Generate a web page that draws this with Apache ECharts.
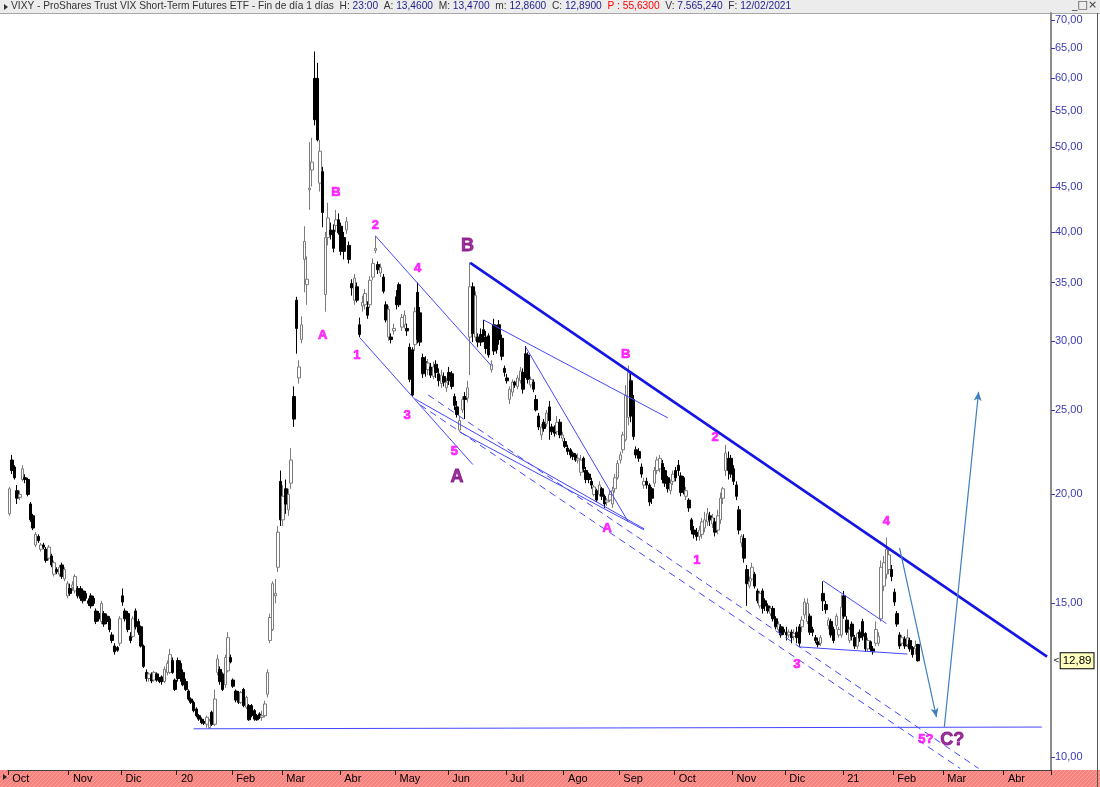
<!DOCTYPE html>
<html><head><meta charset="utf-8">
<script src="https://cdn.jsdelivr.net/npm/echarts@6/dist/echarts.min.js"></script>
<style>html,body{margin:0;padding:0;background:#fff}#c{width:1100px;height:787px}</style>
</head><body><div id="c"></div>
<script>
// ---------- DATA (open, close, low, high) ----------
const oct19 = [[19.0,20.3,18.9,20.4],[21.9,21.3,21.1,22.2],[21.5,20.9,20.8,21.6],[20.2,19.8,19.5,20.5],[19.85,20.0,19.7,20.2],[20.8,21.4,20.7,21.6],[20.9,20.8,20.6,21.1],[20.8,20.0,19.9,20.9],[19.5,18.7,18.6,19.6],[18.9,18.3,18.2,19.0],[17.5,18.0,17.4,18.1],[17.9,17.7,17.6,18.0],[17.3,17.5,17.2,17.6],[17.5,17.4,17.3,17.6],[17.3,16.8,16.7,17.4],[16.9,17.4,16.8,17.5],[17.0,16.6,16.5,17.1],[16.2,16.7,16.1,16.8],[16.4,16.3,16.2,16.5],[16.2,16.5,16.1,16.6],[16.6,16.1,16.0,16.7],[16.0,16.4,15.9,16.5],[15.3,15.8,15.2,15.9]];
const nov19 = [[15.6,15.4,15.3,15.8],[15.65,15.75,15.5,15.9],[15.5,16.1,15.4,16.2],[15.6,15.3,15.2,15.7],[15.6,15.2,15.1,15.7],[15.5,15.1,15.0,15.6],[15.4,15.2,15.1,15.5],[15.1,15.0,14.9,15.2],[15.3,14.9,14.8,15.4],[15.2,15.0,14.9,15.3],[14.7,14.3,14.2,14.8],[14.6,14.4,14.3,14.7],[14.3,15.0,14.2,15.1],[14.6,14.2,14.1,14.7],[14.5,14.3,14.2,14.6],[14.4,14.0,13.9,14.5],[13.8,13.6,13.5,13.9],[13.4,13.2,13.1,13.5],[13.35,13.25,13.2,13.4],[13.5,14.4,13.4,14.5]];
const dec19 = [[15.3,15.05,14.9,15.6],[14.7,14.4,14.3,14.8],[14.6,14.0,13.9,14.7],[13.75,13.6,13.5,13.9],[13.75,14.4,13.7,14.5],[14.7,14.1,14.0,14.8],[14.3,13.9,13.8,14.4],[14.1,13.4,13.35,14.15],[13.4,12.7,12.65,13.45],[12.5,12.3,12.2,12.6],[12.3,12.45,12.2,12.5],[12.42,12.22,12.15,12.5],[12.25,12.5,12.2,12.55],[12.45,12.25,12.2,12.5],[12.3,12.2,12.15,12.35],[12.35,12.2,12.1,12.4],[12.2,12.6,12.15,12.7],[12.5,12.8,12.4,12.9],[12.5,13.1,12.45,13.3],[12.9,12.5,12.45,13.0],[12.25,11.95,11.9,12.3]];
const jan20 = [[12.9,12.3,12.2,13.0],[12.8,12.3,12.2,12.9],[12.5,12.1,12.05,12.6],[12.2,11.95,11.9,12.3],[11.9,11.65,11.6,11.95],[11.65,11.55,11.5,11.7],[11.55,11.3,11.25,11.6],[11.35,11.15,11.1,11.4],[11.15,11.05,11.0,11.2],[11.05,10.95,10.9,11.1],[10.98,10.93,10.88,11.05],[10.9,11.1,10.8,11.15],[10.8,11.0,10.77,11.05],[11.25,10.9,10.85,11.3],[10.9,11.65,10.85,11.95],[12.5,12.95,12.4,13.1],[12.6,12.2,12.1,12.7],[12.45,11.95,11.9,12.5],[12.1,13.0,12.0,13.1],[12.55,13.7,12.5,13.9],[13.0,12.85,12.8,13.1]];
const feb20 = [[12.25,12.05,12.0,12.3],[11.9,11.62,11.55,11.95],[11.85,11.55,11.5,11.9],[11.55,11.85,11.5,11.9],[11.95,11.45,11.4,12.0],[11.4,11.7,11.35,11.75],[11.45,11.03,11.0,11.5],[11.45,11.15,11.1,11.5],[11.3,11.05,11.0,11.35],[11.15,11.03,11.0,11.2],[11.2,11.1,11.05,11.25],[11.1,11.15,11.0,11.3],[11.15,11.5,11.1,11.6],[11.8,12.5,11.7,12.6],[13.6,14.45,13.5,14.6],[14.0,15.8,13.95,15.9],[15.3,15.4,15.0,16.0],[16.5,18.1,16.3,18.4],[20.7,18.7,18.4,21.3]];
const mar20 = [[18.7,19.9,18.4,20.5],[20.3,19.5,19.0,20.8],[19.2,20.0,18.9,20.3],[20.6,21.9,20.3,22.6],[25.9,24.4,23.9,26.6],[33.4,31.0,29.0,33.7],[27.2,28.0,26.8,28.5],[30.1,31.3,29.8,32.0],[37.2,39.0,34.1,40.6],[34.8,35.3,33.0,37.5],[44.7,44.9,42.4,50.7],[47.1,48.1,45.1,51.3],[60.0,53.8,53.0,64.4],[60.0,51.0,50.8,62.5],[45.5,49.5,44.5,51.0],[46.9,42.1,40.5,47.5],[33.9,39.4,32.4,40.0],[39.4,41.5,38.6,43.2],[40.2,39.7,39.2,41.0],[40.2,38.3,37.9,40.8],[40.7,41.3,40.0,42.4],[41.3,39.9,39.7,42.0]];
const apr20 = [[40.6,38.0,37.6,41.0],[39.4,38.0,37.2,40.0],[40.2,41.1,39.8,41.6],[38.6,37.2,36.8,39.0],[34.9,34.5,33.8,35.3],[33.4,35.4,33.0,35.8],[34.6,33.4,33.2,35.0],[31.3,30.5,30.3,31.9],[32.9,33.2,32.4,33.8],[33.0,34.0,32.6,34.4],[32.8,32.1,31.8,33.3],[33.0,35.2,32.7,35.6],[35.5,36.8,35.2,37.3],[38.1,38.3,37.8,39.6],[36.7,36.2,35.8,37.0],[35.9,36.4,35.5,36.8],[35.5,34.2,34.0,35.8],[33.0,31.7,31.5,33.3],[30.3,32.6,30.0,32.9],[30.3,30.1,29.8,30.6],[30.8,31.0,30.5,31.4]];
const may20 = [[33.7,33.0,32.6,34.3],[34.8,33.0,32.8,35.0],[31.1,31.9,30.8,32.2],[31.3,32.1,31.0,32.5],[31.0,30.8,30.4,31.4],[29.5,27.1,26.9,29.8],[29.3,26.0,25.9,29.5],[29.7,32.4,29.2,32.8],[34.1,30.1,29.8,35.0],[32.3,29.9,29.6,32.8],[28.7,27.5,27.2,29.0],[28.4,27.8,27.3,28.8],[27.8,28.3,27.4,28.6],[28.0,27.4,27.2,28.3],[27.3,28.0,27.1,28.4],[28.2,27.6,27.2,28.5],[27.5,27.0,26.6,27.9],[26.8,27.4,26.5,27.8],[27.3,26.9,26.6,27.6],[26.5,26.9,26.2,27.2]];
const jun20 = [[27.6,27.0,26.7,28.0],[27.5,26.6,26.4,27.7],[25.9,25.3,25.0,26.1],[25.2,24.7,24.5,25.6],[23.7,24.3,23.6,24.6],[25.0,25.7,24.8,25.9],[25.9,25.7,24.4,26.2],[25.8,26.5,25.5,27.0],[30.3,34.6,27.4,36.9],[34.6,30.6,29.9,35.0],[30.3,33.8,30.0,34.2],[30.3,29.9,29.5,30.6],[30.5,29.9,29.6,31.0],[30.9,30.4,29.9,31.7],[30.3,29.4,29.0,30.8],[30.4,28.9,28.7,30.6],[27.8,28.2,27.6,28.5],[31.3,29.2,28.9,31.8],[31.0,29.3,29.0,31.3],[31.3,30.1,29.7,31.7],[30.2,28.8,28.5,30.5],[27.9,27.6,27.3,28.1]];
const jul20 = [[27.2,27.0,26.8,27.5],[25.7,26.4,25.4,26.6],[26.2,26.9,25.9,27.1],[26.9,26.7,26.5,27.0],[26.6,27.2,26.4,27.4],[27.0,27.7,26.8,28.0],[27.6,26.4,26.1,27.9],[29.0,27.4,27.2,29.6],[28.9,27.1,26.8,29.1],[26.7,27.1,26.5,27.3],[26.9,26.4,26.2,27.1],[25.7,25.0,24.9,26.0],[24.6,23.9,23.7,24.8],[23.4,23.9,23.1,24.1],[24.2,23.8,23.6,24.4],[24.1,24.8,23.9,25.0],[25.2,24.3,23.1,25.6],[23.9,23.6,23.4,24.1],[23.8,23.5,23.3,24.0],[23.6,24.2,23.4,24.6],[24.2,23.4,23.2,24.4],[23.2,23.4,23.0,23.6]];
const aug20 = [[23.0,22.7,22.6,23.2],[22.6,22.4,22.2,22.8],[22.5,22.2,22.0,22.6],[22.3,22.1,21.9,22.4],[22.2,21.9,21.8,22.3],[21.9,22.0,21.7,22.3],[21.2,21.9,21.0,22.2],[22.0,21.4,21.2,22.1],[21.3,20.8,20.6,21.5],[21.1,20.8,20.6,21.2],[20.7,20.5,20.3,20.9],[20.0,20.4,19.9,20.5],[20.2,19.7,19.6,20.3],[20.0,20.5,19.9,20.7],[20.3,19.9,19.7,20.4],[19.9,19.5,19.3,20.0],[19.6,19.7,19.4,19.8],[19.7,20.0,19.6,20.2],[19.5,20.2,19.3,20.4],[20.3,20.9,20.1,21.1],[20.9,21.7,20.8,21.9]];
const sep20 = [[21.9,22.2,21.7,22.4],[22.5,23.4,22.3,23.6],[23.1,26.0,23.0,26.7],[24.5,27.6,24.0,28.1],[27.0,24.6,24.2,27.6],[25.7,23.3,23.1,26.0],[22.5,22.2,22.0,22.7],[22.4,22.0,21.8,22.6],[21.5,21.1,20.9,21.7],[20.5,20.7,20.3,20.9],[20.7,20.5,20.3,20.9],[20.5,19.6,19.4,20.6],[20.3,19.8,19.5,20.4],[20.6,21.3,20.4,21.5],[21.3,21.9,21.1,22.1],[21.4,22.0,21.2,22.2],[21.7,20.8,20.6,21.9],[21.3,20.6,20.4,21.5],[20.9,20.3,20.1,21.0],[20.2,20.6,20.0,20.8],[20.7,21.1,20.5,21.3]];
const oct20 = [[21.3,20.9,20.7,21.5],[21.6,21.3,21.0,21.9],[21.0,20.1,19.9,21.2],[20.9,20.2,20.0,21.0],[19.9,20.2,19.7,20.4],[19.7,19.3,19.1,19.8],[18.7,18.2,18.0,18.8],[18.2,18.0,17.8,18.4],[18.1,17.9,17.7,18.3],[17.9,18.2,17.7,18.4],[18.0,18.6,17.8,18.8],[18.3,18.7,18.1,19.1],[18.6,19.0,18.4,19.3],[18.9,18.7,18.4,19.1],[18.5,18.8,18.3,19.0],[18.6,18.1,17.9,18.8],[18.2,18.9,18.0,19.2],[18.7,19.8,18.5,20.1],[19.8,20.3,19.5,20.4],[21.3,22.3,21.0,22.8],[22.0,21.3,20.8,22.4],[22.0,21.1,20.9,22.2]];
const nov20 = [[21.4,20.7,20.5,21.6],[20.5,19.9,19.7,20.7],[19.2,18.2,18.0,19.4],[17.6,17.9,17.4,18.0],[17.8,16.9,16.7,18.0],[16.4,15.8,14.9,16.6],[15.7,15.9,15.6,16.1],[16.0,16.5,15.9,16.7],[16.2,15.7,15.6,16.3],[15.5,15.1,15.0,15.6],[14.9,15.4,14.8,15.5],[15.5,14.8,14.6,15.6],[15.1,14.9,14.7,15.2],[14.9,14.7,14.6,15.0],[14.6,14.8,14.5,14.9],[14.8,14.4,14.3,14.9],[14.4,14.1,14.0,14.5],[14.0,14.2,13.9,14.3],[14.1,13.8,13.7,14.2],[14.0,13.9,13.8,14.1]];
const dec20 = [[13.9,13.8,13.6,14.1],[13.8,13.9,13.7,14.0],[13.9,13.7,13.5,14.0],[13.75,13.85,13.6,14.0],[13.9,13.7,13.5,14.1],[14.1,13.5,13.37,14.2],[14.1,14.35,13.9,14.5],[14.55,15.05,14.4,15.2],[14.3,15.0,14.2,15.2],[14.5,13.9,13.8,14.6],[14.0,13.9,13.75,14.1],[13.7,13.6,13.5,13.8],[13.55,13.45,13.35,13.7],[13.5,13.7,13.4,13.8],[15.4,15.1,14.7,15.9],[14.95,14.75,14.6,15.1],[14.15,14.35,14.0,14.45],[14.3,13.8,13.7,14.4],[14.0,13.6,13.5,14.1],[14.15,14.5,14.0,14.6],[13.8,14.0,13.7,14.1],[13.8,14.85,13.7,15.35]];
const jan21 = [[15.3,14.5,14.4,15.5],[14.35,13.9,13.8,14.5],[13.6,14.0,13.5,14.1],[14.2,13.75,13.6,14.3],[13.7,13.4,13.3,13.8],[13.4,13.85,13.3,13.9],[13.9,13.7,13.55,14.0],[14.3,13.75,13.6,14.4],[13.85,13.3,13.2,13.9],[13.3,13.6,13.2,13.7],[13.55,13.3,13.2,13.6],[13.3,13.2,13.1,13.4],[13.5,14.0,13.4,14.3],[13.5,13.75,13.4,13.9],[14.4,16.5,14.3,16.8],[15.7,16.7,15.5,17.0],[16.2,17.3,16.0,17.85],[16.4,17.05,16.2,17.3],[16.4,16.1,15.9,16.6]];
const feb21 = [[15.45,15.05,14.9,15.6],[14.6,14.2,14.1,14.7],[13.8,13.4,13.3,13.9],[13.5,13.7,13.4,13.8],[13.65,13.4,13.3,13.75],[13.45,13.7,13.35,14.0],[13.6,13.3,13.2,13.7],[13.35,13.1,13.0,13.4],[13.3,13.4,13.1,13.6],[13.46,12.89,12.86,13.47]];

const holidays = ['2019-11-28','2019-12-25','2020-01-01','2020-01-20','2020-02-17','2020-04-10','2020-05-25','2020-07-03','2020-09-07','2020-11-26','2020-12-25','2021-01-01','2021-01-18','2021-02-15','2021-04-02'];
const firstDay = '2019-10-01', lastDay = '2021-04-27';
const monthNames = ['', 'Feb','Mar','Abr','May','Jun','Jul','Ago','Sep','Oct','Nov','Dic'];
const yTicks = [10,15,20,25,30,35,40,45,50,55,60,65,70];
const lastClose = 12.89;

// trend lines: [date1, price1, date2, price2, style]
const trendLines = [
  ['2020-06-11',36.86,'2021-04-26',13.03,'thick'],
  ['2020-04-21',39.58,'2020-06-23',28.09,'thin'],
  ['2020-04-13',30.27,'2020-06-12',21.64,'thin'],
  ['2020-06-18',31.71,'2020-09-28',24.48,'thin'],
  ['2020-07-13',29.53,'2020-09-04',18.60,'thin'],
  ['2020-05-12',25.74,'2020-09-15',18.26,'thin'],
  ['2020-06-05',23.58,'2020-09-15',18.21,'thin'],
  ['2020-12-21',15.92,'2021-01-27',14.22,'thin'],
  ['2020-12-08',13.37,'2021-02-08',13.12,'thin'],
  ['2020-01-10',10.77,'2021-04-22',10.82,'thin'],
  ['2020-05-19',26.01,'2021-03-18',9.70,'dash'],
  ['2020-05-14',25.33,'2021-03-09',9.70,'dash'],
  ['2021-02-03',17.37,'2021-02-24',11.11,'arrow'],
  ['2021-03-01',10.82,'2021-03-18',26.22,'arrow']
];
// wave labels: [date, price, text, kind]
const waveLabels = [
  ['2020-03-30',44.34,'B','m'],['2020-03-23',30.47,'A','m'],['2020-04-21',40.64,'2','m'],
  ['2020-05-13',36.28,'4','m'],['2020-04-09',28.83,'1','m'],['2020-05-07',24.61,'3','m'],
  ['2020-06-03',22.43,'5','m'],['2020-06-04',20.95,'A','p'],['2020-06-10',38.55,'B','p'],
  ['2020-09-03',28.91,'B','m'],['2020-08-25',18.26,'A','m'],['2020-10-22',23.22,'2','m'],
  ['2020-10-13',16.78,'1','m'],['2020-12-07',12.78,'3','m'],['2021-01-27',18.60,'4','m'],
  ['2021-02-18',10.46,'5?','m'],['2021-03-04',10.46,'C?','p']
];

// ---------- BUILD ----------
function tradingDays(a, b) {
  let d = new Date(a + 'T00:00:00Z'); const end = new Date(b + 'T00:00:00Z'); const out = [];
  while (d <= end) {
    const w = d.getUTCDay(); const s = d.toISOString().slice(0, 10);
    if (w !== 0 && w !== 6 && holidays.indexOf(s) < 0) out.push(s);
    d = new Date(d.getTime() + 86400000);
  }
  return out;
}
const dates = tradingDays(firstDay, lastDay);
const monthStart = dates.map((s, i) => i === 0 || s.slice(0, 7) !== dates[i - 1].slice(0, 7));
const ohlc = [].concat(oct19, nov19, dec19, jan20, feb20, mar20, apr20, may20, jun20, jul20, aug20, sep20, oct20, nov20, dec20, jan21, feb21);

const lineStyles = {
  thick: {color: '#1414e6', width: 2.6, type: 'solid'},
  thin: {color: '#4646ff', width: 1, type: 'solid'},
  dash: {color: '#4646ff', width: 1, type: [7, 5]},
  arrow: {color: '#3f7fc0', width: 1.2, type: 'solid'}
};
const mlData = trendLines.map(t => [
  {coord: [t[0], t[1]], symbol: 'none', lineStyle: lineStyles[t[4]]},
  {coord: [t[2], t[3]], symbol: t[4] === 'arrow' ? 'arrow' : 'none', symbolSize: [6, 9]}
]);
mlData.push({
  yAxis: lastClose, symbol: 'none', lineStyle: {color: 'rgba(0,0,0,0)', width: 0},
  label: {show: true, position: 'end', distance: 2, formatter: '{a|<}{b|' + lastClose.toFixed(2).replace('.', ',') + '}',
    rich: {a: {color: '#222', fontSize: 8, fontFamily: 'DejaVu Sans', padding: [0, 1, 0, 0]},
           b: {backgroundColor: '#ffffc0', borderColor: '#000', borderWidth: 1, padding: [2, 2, 1, 2], color: '#000', fontSize: 11.5, fontFamily: 'Liberation Sans'}}}
});

// hatched fill for the bottom time band
const hatch = document.createElement('canvas'); hatch.width = 4; hatch.height = 4;
(function () { const g = hatch.getContext('2d'); g.fillStyle = '#f8827d'; g.fillRect(0, 0, 4, 4);
  g.fillStyle = '#fba29d'; g.fillRect(0, 3, 1, 1); g.fillRect(1, 2, 1, 1); g.fillRect(2, 1, 1, 1); g.fillRect(3, 0, 1, 1); })();

const labelStyle = {
  m: {color: '#ff00ff', fontSize: 13, fontWeight: 'bold', textBorderColor: '#ff00ff', textBorderWidth: 0.7},
  p: {color: '#800080', fontSize: 18, fontWeight: 'bold', textBorderColor: '#800080', textBorderWidth: 0.8}
};
const scatterData = waveLabels.map(w => ({
  value: [w[0], w[1]],
  label: Object.assign({show: true, position: 'inside', formatter: w[2], fontFamily: 'Liberation Sans'}, labelStyle[w[3]])
}));

const chart = echarts.init(document.getElementById('c'), null, {renderer: 'canvas'});
chart.setOption({
  animation: false,
  backgroundColor: '#ffffff',
  title: {
    left: 11, top: 1, padding: 0,
    text: '{n|VIXY - ProShares Trust VIX Short-Term Futures ETF - Fin de día 1 días}{n|  H: }{v|23:00}{n|  A: }{v|13,4600}{n|  M: }{v|13,4700}{n|  m: }{v|12,8600}{n|  C: }{v|12,8900}{r|  P : 55,6300}{n|  V: }{v|7.565,240}{n|  F: }{v|12/02/2021}',
    textStyle: {fontSize: 10.2, fontFamily: 'Liberation Sans', fontWeight: 'normal',
      rich: {n: {color: '#333333', fontSize: 10.2, fontFamily: 'Liberation Sans'},
             v: {color: '#1e1e8c', fontSize: 10.2, fontFamily: 'Liberation Sans'},
             r: {color: '#ff0000', fontSize: 10.2, fontFamily: 'Liberation Sans'}}}
  },
  graphic: [
    {type: 'rect', z: -10, shape: {x: 0, y: 0, width: 1100, height: 13}, style: {fill: '#ececec'}},
    {type: 'line', z: -9, shape: {x1: 0, y1: 13.5, x2: 1100, y2: 13.5}, style: {stroke: '#a8a8a8', lineWidth: 1}},
    {type: 'polygon', shape: {points: [[4, 4], [8, 7], [4, 10]]}, style: {fill: '#333'}},
    {type: 'text', left: 1072, top: 0, style: {text: '_\u25a1\u00d7', fontSize: 11, fill: '#333', fontFamily: 'DejaVu Sans'}},
    {type: 'rect', z: -10, shape: {x: 0, y: 770, width: 1100, height: 17}, style: {fill: {image: hatch, repeat: 'repeat'}}},
    {type: 'polygon', shape: {points: [[3, 774], [7, 777], [3, 780]]}, style: {fill: '#222'}},
    {type: 'line', shape: {x1: 1097.5, y1: 13, x2: 1097.5, y2: 787}, style: {stroke: '#555', lineWidth: 1}}
  ],
  grid: {left: 8, right: 49, top: 13, bottom: 17, containLabel: false},
  xAxis: {
    type: 'category', data: dates, boundaryGap: true,
    axisLine: {show: true, lineStyle: {color: '#404040', width: 1}},
    axisTick: {show: true, interval: (i) => monthStart[i], length: 5, lineStyle: {color: '#222', width: 1}},
    axisLabel: {interval: (i) => monthStart[i], align: 'left', margin: 3, padding: [0, 0, 0, 3], fontSize: 11, color: '#000', fontFamily: 'Liberation Sans',
      formatter: (v) => { const m = +v.slice(5, 7); return m === 1 ? v.slice(2, 4) : monthNames[m - 1]; }},
    splitLine: {show: false}
  },
  yAxis: {
    type: 'log', logBase: 10, min: 9.66, max: 71.3, position: 'right',
    axisLine: {show: true, lineStyle: {color: '#8c8c8c', width: 2}},
    axisTick: {show: true, customValues: yTicks, length: 4, inside: false, lineStyle: {color: '#3a3ab4'}},
    axisLabel: {customValues: yTicks, margin: 4, fontSize: 11, color: '#3a3ab4', fontFamily: 'Liberation Sans',
      formatter: (v) => Number(v).toFixed(2).replace('.', ',')},
    splitLine: {show: false}
  },
  series: [
    {
      type: 'candlestick', data: ohlc, barWidth: 3,
      itemStyle: {color: '#ffffff', color0: '#000000', borderColor: '#7c7c7c', borderColor0: '#000000', borderWidth: 1},
      markLine: {silent: true, animation: false, symbol: ['none', 'none'], label: {show: false}, data: mlData}
    },
    {
      type: 'scatter', data: scatterData, symbolSize: 1, itemStyle: {color: 'rgba(0,0,0,0)'}, silent: true, z: 5
    }
  ]
});
</script></body></html>
